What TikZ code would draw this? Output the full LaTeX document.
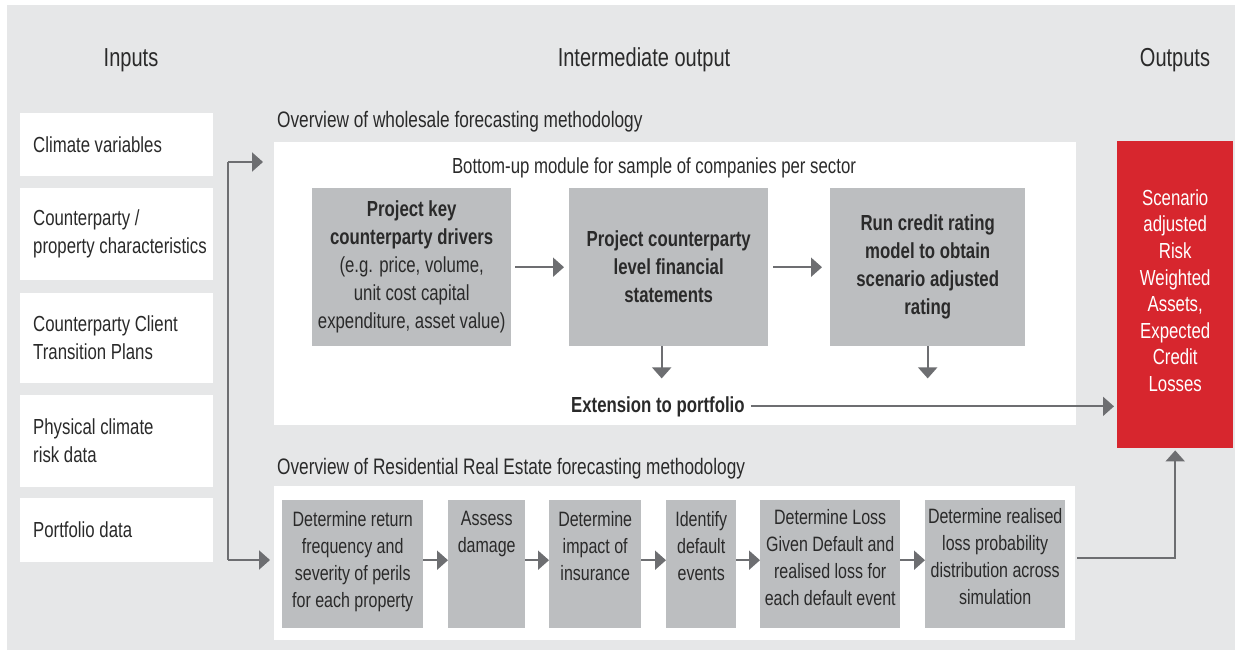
\documentclass[tikz,border=0pt]{standalone}
\usepackage{fontspec}
\setmainfont[FakeStretch=0.77]{Liberation Sans}
\usetikzlibrary{arrows.meta}
\definecolor{bgc}{HTML}{E6E7E8}
\definecolor{boxc}{HTML}{BCBEC0}
\definecolor{arrc}{HTML}{6D6E71}
\definecolor{redc}{HTML}{D7262E}
\definecolor{txtc}{HTML}{2A2A2A}
\begin{document}
\begin{tikzpicture}[x=1pt, y=-1pt,
  every node/.style={text=txtc, inner sep=0pt},
  headtxt/.style={font=\fontsize{26}{30}\selectfont},
  titletxt/.style={font=\fontsize{22.4}{28}\selectfont, anchor=west},
  intext/.style={font=\fontsize{21.8}{28}\selectfont, align=left, anchor=west},
  inbox/.style={fill=white, anchor=north west, minimum width=193pt},
  panel/.style={fill=white, anchor=north west},
  wgray/.style={fill=boxc, anchor=north west, minimum height=158pt, align=center, font=\fontsize{21.8}{28}\selectfont},
  bgray/.style={fill=boxc, anchor=north west, minimum height=128pt},
  btext/.style={anchor=north, align=center, font=\fontsize{20.8}{27}\selectfont},
  redbox/.style={fill=redc, anchor=north west, minimum width=116pt, minimum height=307pt},
  ln/.style={draw=arrc, line width=2pt},
  arr/.style={draw=arrc, line width=2pt, -{Triangle[length=11pt,width=19pt]}}
]
\useasboundingbox (0,0) rectangle (1235,650);
\fill[bgc] (7,5) rectangle (1235,650);

% headers
\node[headtxt] (hin) at (131,60) {Inputs};
\node[headtxt] (hmid) at (644,60) {Intermediate output};
\node[headtxt] (hout) at (1175,60) {Outputs};

% inputs
\node[inbox, minimum height=63pt] (in1) at (20,113) {};
\node[intext] (in1t) at ([xshift=13pt]in1.west) {Climate variables};
\node[inbox, minimum height=92pt] (in2) at (20,188) {};
\node[intext] (in2t) at ([xshift=13pt]in2.west) {Counterparty /\\property characteristics};
\node[inbox, minimum height=90pt] (in3) at (20,293) {};
\node[intext] (in3t) at ([xshift=13pt]in3.west) {Counterparty Client\\Transition Plans};
\node[inbox, minimum height=92pt] (in4) at (20,395) {};
\node[intext] (in4t) at ([xshift=13pt]in4.west) {Physical climate\\risk data};
\node[inbox, minimum height=64pt] (in5) at (20,498) {};
\node[intext] (in5t) at ([xshift=13pt]in5.west) {Portfolio data};

% wholesale panel
\node[titletxt] (wtitle) at (277,122) {Overview of wholesale forecasting methodology};
\node[panel, minimum width=802pt, minimum height=283pt] (wbox) at (274,142) {};
\node[font=\fontsize{21.8}{28}\selectfont] (bu) at (654,168) {Bottom-up module for sample of companies per sector};
\node[wgray, minimum width=199pt] (w1) at (312,188) {\textbf{Project key}\\\textbf{counterparty drivers}\\(e.g. price, volume,\\unit cost capital\\expenditure, asset value)};
\node[wgray, minimum width=199pt] (w2) at (569,188) {\textbf{Project counterparty}\\\textbf{level financial}\\\textbf{statements}};
\node[wgray, minimum width=195pt] (w3) at (830,188) {\textbf{Run credit rating}\\\textbf{model to obtain}\\\textbf{scenario adjusted}\\\textbf{rating}};
\node[font=\bfseries\fontsize{21.8}{28}\selectfont, anchor=base west] (ext) at (571,412) {Extension to portfolio};

% residential panel
\node[titletxt] (rtitle) at (277,469) {Overview of Residential Real Estate forecasting methodology};
\node[panel, minimum width=801pt, minimum height=154pt] (rbox) at (274,486) {};
\node[bgray, minimum width=141pt] (b1) at (282,500) {};
\node[btext] (b1t) at ([yshift=-11pt]b1.north) {Determine return\\frequency and\\severity of perils\\for each property};
\node[bgray, minimum width=77pt] (b2) at (448,500) {};
\node[btext] (b2t) at ([yshift=-11pt]b2.north) {Assess\\damage};
\node[bgray, minimum width=92pt] (b3) at (549,500) {};
\node[btext] (b3t) at ([yshift=-11pt]b3.north) {Determine\\impact of\\insurance};
\node[bgray, minimum width=70pt] (b4) at (666,500) {};
\node[btext] (b4t) at ([yshift=-11pt]b4.north) {Identify\\default\\events};
\node[bgray, minimum width=140pt] (b5) at (760,500) {};
\node[btext] (b5t) at ([yshift=-9pt]b5.north) {Determine Loss\\Given Default and\\realised loss for\\each default event};
\node[bgray, minimum width=140pt] (b6) at (925,500) {};
\node[btext] (b6t) at ([yshift=-8pt]b6.north) {Determine realised\\loss probability\\distribution across\\simulation};

% output
\node[redbox] (out) at (1117,141) {};
\node[align=center, text=white, font=\fontsize{21.8}{26.6}\selectfont] (outt) at ([yshift=4pt]out.center) {Scenario\\adjusted\\Risk\\Weighted\\Assets,\\Expected\\Credit\\Losses};

% connectors: inputs
\coordinate (jt) at (228,162);
\coordinate (jb) at (228,560);
\draw[ln] (jt) -- (jb);
\draw[arr, shorten >=11pt] (jt) -- (jt -| wbox.west);
\draw[arr, shorten >=4pt] (jb) -- (jb -| rbox.west);

% wholesale connectors
\draw[arr, shorten <=4pt, shorten >=5pt] (w1.east) -- (w2.west);
\draw[arr, shorten <=5pt, shorten >=8pt] (w2.east) -- (w3.west);
\coordinate (d2) at ([xshift=-7pt,yshift=-32pt]w2.south);
\coordinate (d3) at ([yshift=-32pt]w3.south);
\draw[arr] ([xshift=-7pt]w2.south) -- (d2);
\draw[arr] (w3.south) -- (d3);
\draw[arr, shorten >=3pt] ([xshift=6pt]ext.east) -- (ext.east -| out.west);

% residential connectors
\draw[arr] ([yshift=4pt]b1.east) -- ([yshift=4pt]b2.west);
\draw[arr] ([yshift=4pt]b2.east) -- ([yshift=4pt]b3.west);
\draw[arr] ([yshift=4pt]b3.east) -- ([yshift=4pt]b4.west);
\draw[arr] ([yshift=4pt]b4.east) -- ([yshift=4pt]b5.west);
\draw[arr] ([yshift=4pt]b5.east) -- ([yshift=4pt]b6.west);
\draw[arr, shorten >=2pt] ([xshift=12pt,yshift=6pt]b6.east) -| (out.south);
\end{tikzpicture}
\end{document}
